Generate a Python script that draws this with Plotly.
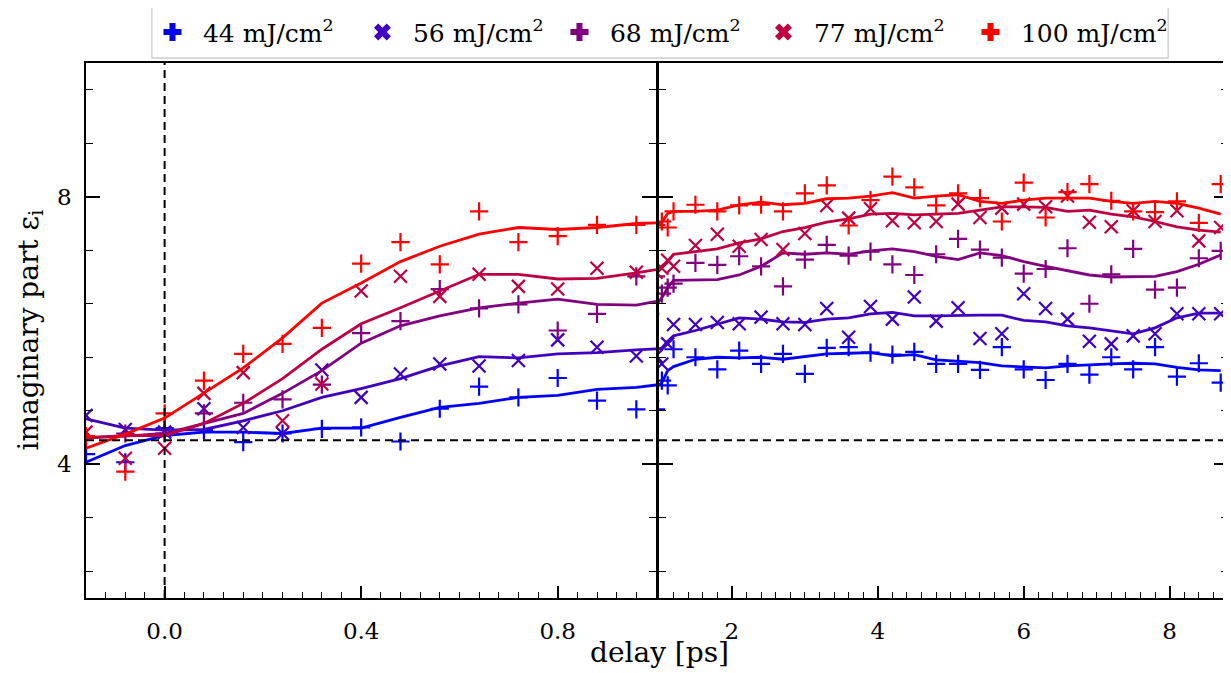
import plotly.graph_objects as go

delay = [-0.16, -0.08, 0.0, 0.08, 0.16, 0.24, 0.32, 0.40, 0.48, 0.56, 0.64, 0.72, 0.80, 0.88, 0.96,
         1.04, 1.12, 1.20, 1.5, 1.8, 2.1, 2.4, 2.7, 3.0, 3.3, 3.6, 3.9, 4.2, 4.5, 4.8,
         5.1, 5.4, 5.7, 6.0, 6.3, 6.6, 6.9, 7.2, 7.5, 7.8, 8.1, 8.4, 8.7]

fluences = ["44", "56", "68", "77", "100"]
colors = ["#0000ff", "#4000bf", "#800080", "#bf0040", "#ff0000"]
symbols = ["cross", "x", "cross", "x", "cross"]

pts_44 = [4.15, 4.03, 4.54, 4.51, 4.33, 4.46, 4.53, 4.55, 4.34, 4.83, 5.16, 5.00, 5.29, 4.95, 4.82,
          5.25, 5.18, 5.72, 5.60, 5.42, 5.70, 5.50, 5.65, 5.35, 5.74, 5.75, 5.67, 5.64, 5.68, 5.50,
          5.50, 5.41, 5.75, 5.42, 5.26, 5.50, 5.34, 5.60, 5.42, 5.75, 5.31, 5.51, 5.22]
fit_44 = [4.03, 4.28, 4.43, 4.48, 4.48, 4.46, 4.54, 4.54, 4.70, 4.85, 4.91, 5.00, 5.03, 5.12, 5.15,
          5.22, 5.40, 5.46, 5.57, 5.60, 5.59, 5.60, 5.57, 5.61, 5.65, 5.66, 5.67, 5.62, 5.64, 5.56,
          5.54, 5.52, 5.47, 5.45, 5.44, 5.47, 5.49, 5.50, 5.51, 5.50, 5.45, 5.41, 5.40]

pts_56 = [4.73, 4.52, 4.48, 4.83, 4.55, 4.46, 5.41, 5.00, 5.35, 5.50, 5.47, 5.55, 5.86, 5.75, 5.62,
          5.50, 5.80, 6.09, 6.09, 6.12, 6.10, 6.20, 6.10, 6.09, 6.33, 5.90, 6.36, 6.17, 6.50, 6.14,
          6.34, 5.88, 5.95, 6.55, 6.33, 6.17, 5.84, 5.80, 5.92, 5.95, 6.25, 6.25, 6.25]
fit_56 = [4.68, 4.54, 4.51, 4.52, 4.65, 4.80, 5.00, 5.13, 5.28, 5.47, 5.61, 5.59, 5.65, 5.67, 5.71,
          5.74, 5.84, 5.92, 6.00, 6.09, 6.19, 6.17, 6.13, 6.12, 6.17, 6.19, 6.25, 6.27, 6.22, 6.22,
          6.23, 6.23, 6.23, 6.15, 6.13, 6.07, 6.04, 6.00, 5.95, 6.04, 6.19, 6.26, 6.26]

pts_68 = [4.40, 4.46, 4.46, 4.76, 4.92, 4.97, 5.19, 5.96, 6.14, 6.62, 6.33, 6.39, 6.00, 6.25, 6.81,
          6.55, 6.64, 6.70, 7.01, 6.98, 7.11, 6.96, 6.66, 7.06, 7.28, 7.12, 7.18, 6.99, 6.83, 7.14,
          7.37, 7.21, 7.09, 6.85, 6.92, 7.23, 6.40, 6.84, 7.22, 6.61, 6.64, 7.08, 7.19]
fit_68 = [4.40, 4.42, 4.46, 4.61, 4.76, 5.06, 5.40, 5.81, 6.07, 6.22, 6.34, 6.41, 6.47, 6.39, 6.38,
          6.49, 6.64, 6.75, 6.75, 6.76, 6.83, 6.96, 7.16, 7.14, 7.16, 7.14, 7.19, 7.22, 7.18, 7.11,
          7.06, 7.16, 7.12, 7.03, 6.96, 6.90, 6.83, 6.80, 6.80, 6.81, 6.88, 6.99, 7.13]

pts_77 = [4.48, 4.09, 4.24, 5.06, 5.37, 4.65, 5.20, 6.59, 6.81, 6.51, 6.84, 6.66, 6.62, 6.93, 6.87,
          6.93, 7.05, 6.96, 7.27, 7.44, 7.26, 7.36, 7.21, 7.45, 7.87, 7.68, 7.82, 7.64, 7.61, 7.63,
          7.89, 7.69, 7.83, 7.89, 7.85, 8.01, 7.62, 7.55, 7.79, 7.63, 7.79, 7.34, 7.54]
fit_77 = [4.39, 4.43, 4.43, 4.61, 4.91, 5.28, 5.72, 6.10, 6.34, 6.59, 6.84, 6.84, 6.77, 6.78, 6.86,
          6.96, 7.03, 7.14, 7.18, 7.22, 7.31, 7.37, 7.48, 7.54, 7.62, 7.67, 7.74, 7.75, 7.73, 7.74,
          7.75, 7.80, 7.85, 7.85, 7.84, 7.78, 7.80, 7.74, 7.70, 7.63, 7.55, 7.50, 7.47]

pts_100 = [4.42, 3.89, 4.76, 5.25, 5.65, 5.80, 6.04, 7.00, 7.32, 6.99, 7.78, 7.32, 7.41, 7.58, 7.58,
           7.63, 7.54, 7.78, 7.88, 7.78, 7.87, 7.88, 7.78, 8.05, 8.17, 7.57, 7.95, 8.30, 8.14, 7.87,
           8.05, 7.98, 7.63, 8.21, 7.69, 8.07, 8.19, 7.94, 7.78, 7.77, 7.93, 7.61, 8.19]
fit_100 = [4.24, 4.45, 4.69, 5.06, 5.44, 5.89, 6.41, 6.71, 7.03, 7.26, 7.44, 7.54, 7.51, 7.54, 7.60,
           7.62, 7.75, 7.78, 7.78, 7.80, 7.88, 7.92, 7.88, 7.90, 7.97, 7.98, 8.01, 8.06, 7.98, 8.01,
           8.03, 7.93, 7.90, 7.95, 7.98, 7.98, 7.98, 7.93, 7.90, 7.93, 7.90, 7.83, 7.74]

points = [pts_44, pts_56, pts_68, pts_77, pts_100]
fits = [fit_44, fit_56, fit_68, fit_77, fit_100]

baseline = 4.36
y_ticks = [4, 8]
left_ticks = [0.0, 0.4, 0.8]
right_ticks = [2, 4, 6, 8]

FONT = "DejaVu Serif"

fig = go.Figure()

for xa, ya in (("x", "y"), ("x2", "y2")):
    for i in range(5):
        thin = "cross-thin" if symbols[i] == "cross" else "x-thin"
        fig.add_trace(go.Scatter(
            x=delay, y=fits[i], mode="lines", xaxis=xa, yaxis=ya,
            line=dict(color=colors[i], width=2.8), showlegend=False, hoverinfo="skip"))
        fig.add_trace(go.Scatter(
            x=delay, y=points[i], mode="markers", xaxis=xa, yaxis=ya,
            marker=dict(symbol=thin, size=13, line=dict(color=colors[i], width=2.2)),
            showlegend=False))

# legend entries
legend_widths = [144, 131, 138, 141, 146]
for i in range(5):
    fig.add_trace(go.Scatter(
        x=[None], y=[None], mode="markers", xaxis="x", yaxis="y",
        marker=dict(symbol=symbols[i], size=15, color=colors[i], line=dict(width=0)),
        name=f"{fluences[i]} mJ/cm<sup>2</sup>", showlegend=True,
        legendwidth=legend_widths[i]))

axis_common = dict(showline=True, linecolor="black", linewidth=1.6, mirror=True,
                   ticks="inside", tickcolor="black", tickwidth=1.5, showgrid=False,
                   zeroline=False, tickfont=dict(family=FONT, size=23, color="black"))

minor_x = dict(ticklen=6, ticks="inside", tickcolor="black", tickwidth=1.2)
minor_y = dict(ticklen=7, ticks="inside", tickcolor="black", tickwidth=1.2)

fig.update_layout(
    width=1223, height=665,
    margin=dict(l=78, r=1, t=52, b=75),
    paper_bgcolor="white", plot_bgcolor="white",
    xaxis=dict(domain=[0, 0.4991], range=[-0.16, 1.0], tickvals=left_ticks,
               ticktext=[f"{v:.1f}" for v in left_ticks], ticklen=12,
               minor=dict(dtick=0.04, tick0=0, **minor_x),
               anchor="y", ticklabelstandoff=12, **axis_common),
    xaxis2=dict(domain=[0.5017, 1.0], range=[1.0, 8.8], tickvals=right_ticks, ticklen=12,
                minor=dict(dtick=0.2, tick0=0, **minor_x),
                anchor="y2", ticklabelstandoff=12, **axis_common),
    yaxis=dict(range=[2, 10], tickvals=y_ticks, ticklen=14, anchor="x",
               minor=dict(dtick=0.8, tick0=0, **minor_y),
               ticklabelstandoff=8,
               **{**axis_common, "mirror": "allticks"}),
    yaxis2=dict(range=[2, 10], tickvals=y_ticks, ticklen=14, anchor="x2", matches="y",
                minor=dict(dtick=0.8, tick0=0, **minor_y),
                showticklabels=False,
                **{**axis_common, "mirror": "allticks"}),
    legend=dict(orientation="h", x=0.049, xanchor="left", y=1.0575, yanchor="middle",
                borderwidth=0, bgcolor="rgba(0,0,0,0)", itemwidth=51,
                font=dict(family=FONT, size=25, color="black")),
    showlegend=True,
)

# legend frame
fig.add_shape(type="rect", xref="paper", yref="paper", x0=0.0577, x1=0.9476, y0=1.0093, y1=1.1059,
              line=dict(color="#cccccc", width=1.3), fillcolor="rgba(0,0,0,0)", layer="below")

# dashed reference lines
dash = "8px,5px"
fig.add_shape(type="line", xref="x domain", yref="y", x0=0, x1=1, y0=baseline, y1=baseline,
              line=dict(color="black", width=2, dash=dash))
fig.add_shape(type="line", xref="x2 domain", yref="y2", x0=0, x1=1, y0=baseline, y1=baseline,
              line=dict(color="black", width=2, dash=dash))
fig.add_shape(type="line", xref="x", yref="y domain", x0=0, x1=0, y0=0, y1=1,
              line=dict(color="black", width=2, dash=dash))

fig.add_annotation(text="delay [ps]", xref="paper", yref="paper", x=0.5026, y=-0.102,
                   yanchor="middle", showarrow=False,
                   font=dict(family=FONT, size=28, color="black"))
fig.add_annotation(text="imaginary part ε<sub>i</sub>", xref="paper", yref="paper",
                   x=-0.049, y=0.5, textangle=-90, xanchor="center", yanchor="middle",
                   showarrow=False, font=dict(family=FONT, size=28, color="black"))

fig.write_html("out.html")
